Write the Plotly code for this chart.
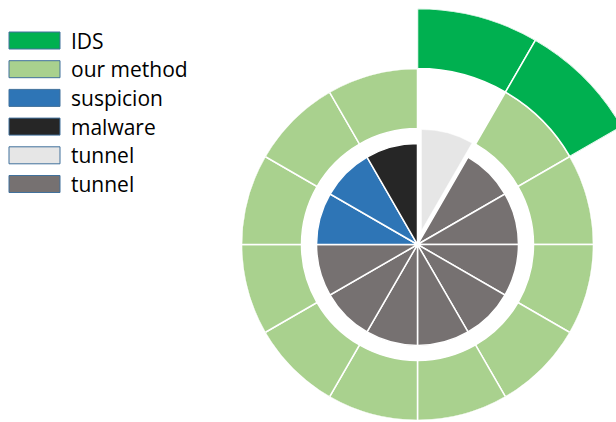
import plotly.graph_objects as go

# sector angles (degrees, clockwise from 12 o'clock), 12 sectors of 30 deg
sector_width = 30

# inner pie
tunnel_dark_theta = [45, 75, 105, 135, 165, 195, 225, 255]
tunnel_dark_r = [101, 101, 101, 101, 101, 101, 101, 101]
suspicion_theta = [285, 315]
suspicion_r = [101, 101]
malware_theta = [345]
malware_r = [101]
tunnel_light_theta = [15]
tunnel_light_r = [101]

# outer ring
method_theta = [45, 75, 105, 135, 165, 195, 225, 255, 285, 315, 345]
method_base = 116
method_r = [60, 60, 60, 60, 60, 60, 60, 60, 60, 60, 60]
ids_theta = [15, 45]
ids_base = 176
ids_r = [60, 60]

legend_labels = ["IDS", "our method", "suspicion", "malware", "tunnel", "tunnel"]
legend_colors = ["#00B050", "#A9D18E", "#2E75B6", "#262626", "#E6E6E6", "#767171"]

C_IDS, C_METHOD, C_SUSP, C_MAL, C_TLIGHT, C_TDARK = legend_colors

line = dict(color="white", width=1.5)

fig = go.Figure()

fig.add_trace(go.Barpolar(r=method_r, theta=method_theta, base=method_base, width=sector_width,
                          marker=dict(color=C_METHOD, line=line), showlegend=False))
fig.add_trace(go.Barpolar(r=tunnel_dark_r, theta=tunnel_dark_theta, width=sector_width,
                          marker=dict(color=C_TDARK, line=line), showlegend=False))
fig.add_trace(go.Barpolar(r=suspicion_r, theta=suspicion_theta, width=sector_width,
                          marker=dict(color=C_SUSP, line=line), showlegend=False))
fig.add_trace(go.Barpolar(r=malware_r, theta=malware_theta, width=sector_width,
                          marker=dict(color=C_MAL, line=line), showlegend=False))
# exploded slice on a shifted copy of the polar axes
fig.add_trace(go.Barpolar(r=tunnel_light_r, theta=tunnel_light_theta, width=sector_width,
                          marker=dict(color=C_TLIGHT, line=dict(color="white", width=0.5)),
                          showlegend=False, subplot="polar2"))
# IDS wedges go past the outer ring -> own partial-sector axes
fig.add_trace(go.Barpolar(r=ids_r, theta=ids_theta, base=ids_base, width=sector_width,
                          marker=dict(color=C_IDS, line=line), showlegend=False,
                          subplot="polar3"))

W, H = 624, 422  # a little wider than the window so the IDS wedge runs off the edge
cx, cy, R = 417.5, 244.5, 175.5
dx, dy = 4, -14
R_IDS = ids_base + ids_r[0]


def dom(shift_x=0.0, shift_y=0.0):
    x0 = (cx + shift_x - R) / W
    x1 = (cx + shift_x + R) / W
    y0 = (H - (cy + shift_y + R)) / H
    y1 = (H - (cy + shift_y - R)) / H
    return dict(x=[x0, x1], y=[y0, y1])


polar_common = dict(
    bgcolor="rgba(0,0,0,0)",
    angularaxis=dict(visible=False, direction="clockwise", rotation=90),
)

# sector [30, 90] (counterclockwise from east): bbox is 0.866R wide, R tall, anchored at centre
ids_dom = dict(x=[cx / W, (cx + 0.8660254 * R_IDS) / W],
               y=[(H - cy) / H, (H - cy + R_IDS) / H])

fig.update_layout(
    width=W, height=H,
    margin=dict(l=0, r=0, t=0, b=0),
    paper_bgcolor="white",
    polar=dict(domain=dom(), radialaxis=dict(visible=False, range=[0, R]), **polar_common),
    polar2=dict(domain=dom(dx, dy), radialaxis=dict(visible=False, range=[0, R]), **polar_common),
    polar3=dict(domain=ids_dom, sector=[30, 90],
                radialaxis=dict(visible=False, range=[0, R_IDS]), **polar_common),
    showlegend=False,
)

# legend drawn as swatches + labels
for i, (lab, col) in enumerate(zip(legend_labels, legend_colors)):
    yc = 40.5 + i * 28.7
    fig.add_shape(type="rect", xref="paper", yref="paper",
                  x0=9 / W, x1=60 / W, y0=(H - yc - 8.5) / H, y1=(H - yc + 8.5) / H,
                  fillcolor=col, line=dict(color="#41719C", width=1))
    fig.add_annotation(text=lab, xref="paper", yref="paper", x=69 / W, y=(H - yc) / H,
                       xanchor="left", yanchor="middle", showarrow=False,
                       font=dict(family="Open Sans", size=21, color="black"))

fig.write_html("out.html", config={"displayModeBar": False},
               post_script="document.body.style.margin='0';document.body.style.overflow='hidden';")
